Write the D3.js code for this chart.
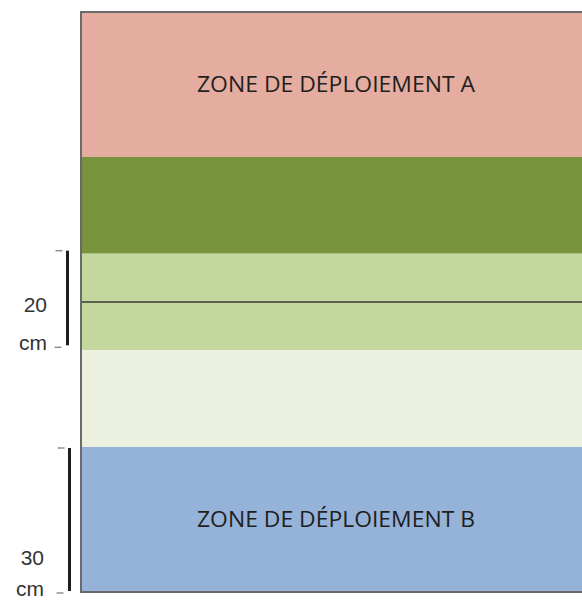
<!DOCTYPE html>
<html><head><meta charset="utf-8">
<script src="https://cdn.jsdelivr.net/npm/d3@7"></script>
<style>html,body{margin:0;padding:0;background:#fff;overflow:hidden}</style>
</head><body>
<svg id="chart" width="582" height="603"></svg>
<script>
// Layers from top to bottom (thickness in cm)
const layerNames = ["Zone A", "Couche 1", "Couche 2", "Couche 3", "Zone B"];
const layerThickness = [30, 20, 20, 20, 30];
const layerLabels = ["ZONE DE DÉPLOIEMENT A", "", "", "", "ZONE DE DÉPLOIEMENT B"];
const layerColors = ["#e4ad9f", "#77933c", "#c4d79c", "#ebf0df", "#95b3d8"];
// Divider line inside layer 3 (cm from top)
const dividerDepths = [60];
// Scale brackets: [from, to] in cm from top, with labels
const bracketFrom = [50, 90];
const bracketTo = [70, 120];
const bracketValue = ["20", "30"];
const bracketUnit = ["cm", "cm"];

const svg = d3.select("#chart");
const total = d3.sum(layerThickness);
const y = d3.scaleLinear().domain([0, total]).range([12, 592]);
const x = d3.scaleLinear().domain([0, 1]).range([81, 592]);

let acc = 0;
const layers = layerThickness.map((t, i) => {
  const d = {name: layerNames[i], top: acc, bottom: acc + t, label: layerLabels[i], color: layerColors[i]};
  acc += t;
  return d;
});

svg.selectAll("rect.layer").data(layers).join("rect")
  .attr("class", "layer")
  .attr("x", x(0)).attr("width", x(1) - x(0))
  .attr("y", d => y(d.top)).attr("height", d => y(d.bottom) - y(d.top))
  .attr("fill", d => d.color);

// divider
svg.selectAll("line.div").data(dividerDepths).join("line")
  .attr("x1", x(0)).attr("x2", x(1))
  .attr("y1", d => y(d)).attr("y2", d => y(d))
  .attr("stroke", "#3a3a3a").attr("stroke-width", 1.6);

// frame borders
svg.append("line").attr("x1", x(0)).attr("x2", x(1)).attr("y1", y(0)).attr("y2", y(0))
  .attr("stroke", "#6a6a6a").attr("stroke-width", 2);
svg.append("line").attr("x1", x(0)).attr("x2", x(1)).attr("y1", y(total)).attr("y2", y(total))
  .attr("stroke", "#6a6a6a").attr("stroke-width", 2);
svg.append("line").attr("x1", x(0)).attr("x2", x(0)).attr("y1", y(0) - 1).attr("y2", y(total) + 1)
  .attr("stroke", "#6a6a6a").attr("stroke-width", 2);

// zone labels
svg.selectAll("text.zone").data(layers.filter(d => d.label)).join("text")
  .attr("class", "zone")
  .attr("x", 336)
  .attr("y", d => (y(d.top) + y(d.bottom)) / 2)
  .attr("dy", "0.36em")
  .attr("text-anchor", "middle")
  .attr("font-family", "'Open Sans', 'Noto Sans', sans-serif")
  .attr("font-size", 21)
  .attr("font-weight", 500)
  .attr("textLength", 278)
  .attr("lengthAdjust", "spacingAndGlyphs")
  .attr("fill", "#1f1f1f")
  .text(d => d.label);

// brackets
const brackets = bracketFrom.map((f, i) => ({from: f, to: bracketTo[i], value: bracketValue[i], unit: bracketUnit[i]}));
const offs = [-3, 1];
const bx = [67.5, 69.5];
const g = svg.selectAll("g.bracket").data(brackets).join("g").attr("class", "bracket");
g.append("line")
  .attr("x1", (d, i) => bx[i]).attr("x2", (d, i) => bx[i])
  .attr("y1", (d, i) => y(d.from) + offs[i]).attr("y2", (d, i) => y(d.to) + offs[i] - 2)
  .attr("stroke", "#1e1e1e").attr("stroke-width", 3);
g.append("line")
  .attr("x1", (d, i) => bx[i] - 12).attr("x2", (d, i) => bx[i] - 5)
  .attr("y1", (d, i) => y(d.from) + offs[i]).attr("y2", (d, i) => y(d.from) + offs[i])
  .attr("stroke", "#8a8a8a").attr("stroke-width", 1.4);
g.append("line")
  .attr("x1", (d, i) => bx[i] - 13).attr("x2", (d, i) => bx[i] - 6)
  .attr("y1", (d, i) => y(d.to) + offs[i]).attr("y2", (d, i) => y(d.to) + offs[i])
  .attr("stroke", "#8a8a8a").attr("stroke-width", 1.4);
g.append("text")
  .attr("x", (d, i) => [47, 44][i])
  .attr("y", (d, i) => [312, 565][i])
  .attr("text-anchor", "end")
  .attr("font-family", "'Liberation Sans', Arial, sans-serif")
  .attr("font-size", 21)
  .attr("fill", "#333")
  .text(d => d.value);
g.append("text")
  .attr("x", (d, i) => [47, 44][i])
  .attr("y", (d, i) => [350, 596][i])
  .attr("text-anchor", "end")
  .attr("font-family", "'Liberation Sans', Arial, sans-serif")
  .attr("font-size", 21)
  .attr("fill", "#333")
  .text(d => d.unit);
</script>
</body></html>
